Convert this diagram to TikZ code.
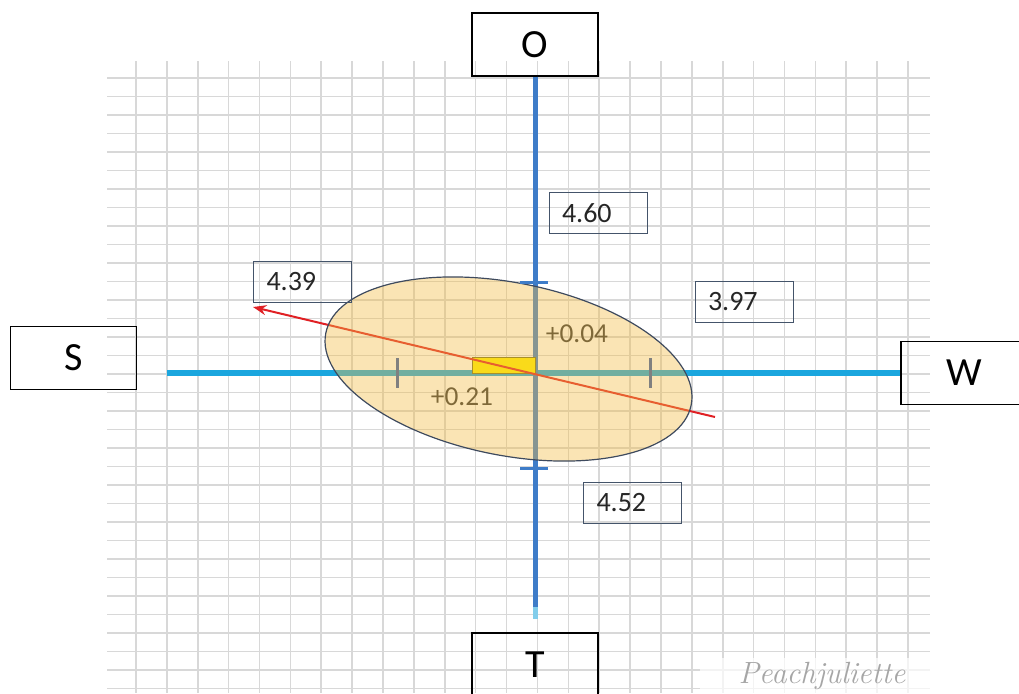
\documentclass[tikz,border=0pt]{standalone}
\usepackage{fontspec}
\newfontfamily\calib{Carlito}
\usetikzlibrary{arrows.meta}
\definecolor{gridgray}{RGB}{216,216,216}
\definecolor{axiscyan}{RGB}{27,166,222}
\definecolor{axisblue}{RGB}{62,124,200}
\definecolor{axisfade}{RGB}{130,205,235}
\definecolor{ellfill}{RGB}{242,187,67}
\definecolor{elldraw}{RGB}{62,74,94}
\definecolor{boxline}{RGB}{68,84,106}
\definecolor{arrowred}{RGB}{224,32,36}
\definecolor{rectyellow}{RGB}{255,240,0}
\definecolor{tickgray}{RGB}{128,128,128}

\begin{document}
\begin{tikzpicture}[x=0.75pt,y=-0.75pt,
    gridline/.style={gridgray,line width=1.2pt},
    dirbox/.style={draw,line width=0.9pt,minimum width=94.5pt,minimum height=47.25pt,
      font=\calib\fontsize{30}{30}\selectfont},
    valbox/.style={draw=boxline,line width=0.6pt,minimum width=73.5pt,minimum height=30.75pt,
      text width=54pt,align=left,inner xsep=9.75pt,text=black!85,
      font=\calib\fontsize{21}{21}\selectfont},
    shiftlabel/.style={text=black!80,font=\calib\fontsize{20.5}{21}\selectfont}]
  \useasboundingbox (0,0) rectangle (1019,693);
  \clip (0,0) rectangle (1019,693);
  % grid paper
  \foreach \i in {0,...,25}
    \draw[gridline] ({136+30.88*\i},61) -- ({136+30.88*\i},693);
  \foreach \j in {0,...,33}
    \draw[gridline] (107,{78+18.5*\j}) -- (930,{78+18.5*\j});
  \fill[white,fill opacity=0.7] (700,658) rectangle (935,693);
  \node[gray!70,font=\fontsize{23}{23}\selectfont\itshape] (mark) at (822,676) {Peachjuliette};

  \node[dirbox] (o) at (535,44.5) {O};
  \node[dirbox] (s) at (73.5,358) {S};
  \node[dirbox] (w) at (964,373) {W};
  \node[dirbox] (t) at (535,664.5) {T};

  \coordinate (axl) at (167,373);
  \coordinate (axb) at (535,607);
  \coordinate (axe) at (535,619);
  \draw[axiscyan,line width=4.5pt] (axl) -- (w.west);
  \draw[axisblue,line width=3.75pt] (o.south) -- (axb);
  \draw[axisfade,line width=3.75pt] (axb) -- (axe);

  \node[draw=olive!80!black,line width=0.5pt,fill=rectyellow,minimum width=47.25pt,
    minimum height=12pt,inner sep=0pt] (shiftbox) at (503.5,365) {};
  \node[shiftlabel] (dy) at (577,334) {+0.04};
  \node[shiftlabel] (dx) at (462,397) {+0.21};

  \coordinate (redend) at (715,417);
  \coordinate (redtip) at (253,307);
  \draw[arrowred,line width=1.5pt,-{Stealth[length=10pt,width=7.5pt]}] (redend) -- (redtip);

  % the error ellipse
  \draw[elldraw,line width=0.9pt,fill=ellfill,fill opacity=0.4,
    rotate around={-11.1:(508.5,369)}] (508.5,369) ellipse [x radius=139.65pt,y radius=64.8pt];

  \foreach \y in {282,468}
    \draw[axisblue,line width=2.25pt] (520,\y) -- (548,\y);
  \foreach \x in {397,650}
    \draw[tickgray,line width=2.25pt] (\x,358) -- (\x,388);

  \node[valbox] (n460) at (598,213) {4.60};
  \node[valbox] (n439) at (302.5,282) {4.39};
  \node[valbox] (n397) at (744,302) {3.97};
  \node[valbox] (n452) at (632.5,503) {4.52};
\end{tikzpicture}
\end{document}
